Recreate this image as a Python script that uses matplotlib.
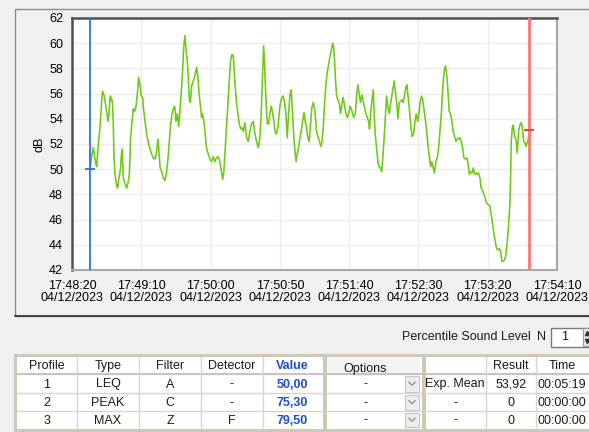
import matplotlib
matplotlib.use("Agg")
import matplotlib.pyplot as plt
from matplotlib.patches import Rectangle
import numpy as np
import pandas as pd

plt.rcParams["font.family"] = ["Liberation Sans", "DejaVu Sans"]
plt.rcParams["font.size"] = 9
plt.rcParams["text.color"] = "#1a1a1a"

# --- measurement -----------------------------------------------------------
axis_start = "2023-12-04T17:48:20"
axis_span_s = 350
tick_step_s = 50

# seconds after 17:48:20 and the sound level (dB) at that moment
offsets_s = [
    13.0, 14.4, 15.4, 16.4, 17.3, 17.8, 19.0, 20.2, 21.4, 22.1, 23.1, 24.1, 25.0, 26.0, 26.7, 27.4, 27.9, 28.4, 29.1, 29.8,
    30.3, 31.0, 32.2, 32.9, 33.9, 35.1, 35.8, 36.3, 36.6, 37.0, 38.2, 39.4, 40.6, 41.4, 42.3, 43.3, 44.3, 45.2, 46.2, 47.1,
    48.1, 49.1, 50.0, 51.0, 51.5, 52.7, 53.9, 55.1, 56.3, 57.5, 58.7, 59.9, 61.1, 62.0, 62.8, 63.5, 64.7, 65.9, 67.1, 68.3,
    69.3, 70.2, 71.2, 72.2, 73.1, 74.1, 75.0, 76.0, 77.0, 77.9, 78.9, 79.8, 80.6, 81.5, 82.3, 83.2, 83.9, 84.7, 85.4,
    86.3, 87.5, 88.7, 89.9, 90.9, 91.8, 92.8, 93.5, 94.2, 95.2, 95.9, 97.1, 98.3, 99.5, 100.7, 101.9, 103.1, 104.3, 105.5, 106.7,
    107.9, 108.7, 109.6, 110.6, 111.6, 112.5, 113.5, 114.4, 115.4, 116.4, 117.1, 117.8, 118.8, 119.7, 120.7, 121.7, 122.6, 123.6, 124.8, 126.0,
    127.2, 128.4, 129.6, 130.8, 132.0, 133.2, 134.4, 135.6, 136.6, 137.5, 138.3, 139.0, 139.9, 140.9, 141.9, 142.8, 143.8, 144.7, 145.7, 146.7,
    147.6, 148.6, 149.6, 150.5, 151.5, 152.4, 153.4, 154.4, 155.3, 156.3, 157.3, 158.2, 159.2, 160.1, 161.1, 161.8, 162.5, 163.5, 164.5, 165.4,
    166.4, 167.4, 168.3, 169.3, 170.2, 171.2, 172.2, 173.1, 174.1, 175.3,
    176.5, 177.7, 178.9, 179.6, 180.4, 181.3, 182.3, 183.2, 184.2, 185.2, 186.1, 187.1, 188.1, 188.8, 189.5, 190.2, 191.0, 191.9, 192.9, 193.8,
    194.8, 195.7, 196.7, 197.7, 198.6, 199.6, 200.6, 201.5, 202.5, 203.4, 204.4, 205.4, 206.3, 207.3, 208.3, 209.2, 210.2, 211.1, 212.1, 213.1,
    214.0, 214.7, 215.5, 216.4, 217.4, 218.1, 218.8, 219.8, 220.8, 221.7, 222.7, 223.4, 224.1, 225.1, 226.1, 227.0, 228.0, 228.9, 229.9, 230.9,
    231.8, 232.5, 233.3, 234.2, 235.2, 236.2, 237.1, 238.1, 239.0, 240.0, 241.0, 241.7, 242.6, 243.6, 244.6, 245.5, 246.5, 247.5, 248.4, 249.4,
    250.3, 251.3, 252.3, 253.2, 254.2, 255.2, 256.1, 257.1, 258.0, 258.8, 259.7, 260.7, 261.6,
    262.6, 263.6, 264.6, 265.5, 266.5, 267.2, 267.9, 268.6, 269.4, 270.1, 270.8, 271.5, 272.2, 273.2, 274.2, 275.1, 276.1, 277.1, 278.0, 279.0,
    279.9, 280.9, 281.9, 282.8, 283.8, 284.8, 285.7, 286.7, 287.6, 288.6, 289.6, 290.5, 291.5, 292.5, 293.4, 294.4, 295.3, 296.3, 297.3, 298.2,
    299.2, 300.4, 301.6, 302.5, 303.5, 304.5, 305.4, 306.4, 307.4, 308.3, 309.3, 310.2, 311.2, 312.2, 313.1, 314.1, 315.1, 316.0, 316.5, 317.0,
    317.7, 318.4, 319.1, 319.9, 320.6, 321.3, 322.3, 323.2, 324.0, 324.7, 325.4, 326.1, 326.8, 327.6, 328.3, 329.0, 330.0,
]
level_db = [
    50.0, 51.2, 51.7, 50.9, 50.4, 50.2, 52.0, 53.3, 55.4, 56.2, 55.9, 55.2, 54.6, 53.8, 54.4, 55.7, 55.8, 55.4, 55.5, 53.6,
    50.9, 49.6, 48.7, 48.5, 49.3, 50.1, 51.4, 51.6, 50.6, 49.3, 48.9, 48.5, 49.0, 49.6, 52.5, 53.8, 54.8, 54.6, 55.0, 55.9,
    57.3, 56.6, 55.8, 55.7, 54.9, 53.8, 52.8, 52.1, 51.6, 51.2, 50.9, 50.8, 51.4, 52.4, 51.4, 50.2, 49.8, 49.3, 49.1, 49.8,
    50.9, 52.2, 53.6, 54.4, 54.8, 55.0, 53.8, 54.4, 53.4, 54.6, 56.2, 57.8, 59.7, 60.6, 59.4, 58.6, 57.3, 55.5, 55.3,
    56.6, 57.0, 57.4, 58.1, 57.3, 55.9, 54.9, 54.1, 54.4, 53.8, 53.0, 51.7, 51.2, 50.8, 50.6, 51.0, 50.6, 50.9, 51.0, 50.6,
    49.8, 49.2, 49.8, 51.7, 53.6, 55.2, 57.0, 58.6, 59.1, 59.0, 57.8, 56.5, 55.2, 54.4, 53.6, 53.2, 53.3, 53.0, 53.7, 52.5,
    52.2, 53.0, 53.6, 53.8, 52.8, 52.2, 51.7, 52.5, 54.6, 57.5, 59.8, 58.3, 55.7, 53.6, 53.6, 54.4, 55.0, 54.5, 53.8, 52.9,
    52.8, 53.3, 54.6, 55.3, 55.7, 55.8, 55.3, 54.4, 52.5, 54.4, 55.9, 56.3, 54.4, 52.5, 51.2, 50.6, 51.2, 51.7, 52.5, 53.0,
    53.8, 54.5, 53.8, 53.3, 52.5, 52.2, 53.6, 54.9, 55.3, 54.6,
    53.0, 52.5, 52.1, 51.8, 52.2, 53.3, 55.2, 56.7, 57.7, 58.3, 58.9, 59.4, 60.0, 59.7, 58.6, 57.0, 55.8, 55.5, 55.2, 54.4,
    55.2, 55.7, 55.0, 54.4, 54.1, 54.4, 55.0, 54.8, 54.4, 54.1, 54.4, 55.9, 56.7, 55.9, 55.3, 55.9, 55.4, 54.9, 54.4, 54.1,
    53.8, 53.2, 54.4, 55.4, 56.3, 54.4, 52.8, 51.7, 50.6, 50.2, 50.1, 49.8, 50.6, 52.2, 54.1, 55.8, 54.9, 54.4, 55.2, 55.9,
    56.5, 57.0, 56.2, 55.4, 54.0, 55.3, 55.4, 55.5, 55.3, 55.9, 56.5, 56.7, 55.7, 54.6, 53.3, 52.6, 52.8, 53.8, 54.4, 53.8,
    54.4, 55.4, 55.8, 55.4, 54.6, 53.8, 52.8, 51.7, 50.9, 50.2, 50.6, 50.1, 49.7,
    50.6, 50.9, 51.7, 53.0, 54.4, 55.7, 57.0, 57.8, 58.2, 57.8, 57.0, 55.9, 54.6, 54.4, 53.8, 53.0, 52.6, 52.2, 52.4, 52.4,
    52.5, 52.2, 51.7, 50.9, 50.8, 50.9, 50.5, 49.6, 49.8, 49.7, 50.1, 49.6, 49.7, 49.6, 49.7, 49.3, 48.5, 48.3, 48.0, 47.7,
    47.3, 47.2, 47.1, 46.4, 45.6, 44.9, 44.3, 43.7, 43.6, 43.7, 43.5, 42.7, 42.7, 42.8, 43.2, 44.3, 45.6, 47.2, 49.3, 52.2,
    53.3, 53.5, 52.8, 52.5, 52.2, 51.3, 53.0, 53.5, 53.7, 53.5, 52.8, 52.2, 52.1, 51.8, 52.1, 52.2, 53.1,
]

# cursors: (seconds after 17:48:20, level at the cursor)
cursor_a = (13.0, 50.0)
cursor_b = (330.0, 53.1)

# --- profile tables ----------------------------------------------------------
profiles = ["1", "2", "3"]
types = ["LEQ", "PEAK", "MAX"]
filters = ["A", "C", "Z"]
detectors = ["-", "-", "F"]
values = [50.00, 75.30, 79.50]
options = ["-", "-", "-"]
stat_names = ["Exp. Mean", "-", "-"]
results = [53.92, 0, 0]
durations = ["00:05:19", "00:00:00", "00:00:00"]
percentile_n = 1


def comma(v, digits=2):
    return "0" if v == 0 else f"{v:.{digits}f}".replace(".", ",")


W, H = 589, 432
fig = plt.figure(figsize=(W / 100, H / 100), dpi=100, facecolor="#f0f0f0")


def px_box(x0, y0, x1, y1):
    return [x0 / W, 1 - y1 / H, (x1 - x0) / W, (y1 - y0) / H]


# pixel-space layer for the window frame and the tables
ui = fig.add_axes([0, 0, 1, 1])
ui.set_xlim(0, W)
ui.set_ylim(H, 0)
ui.axis("off")

# chart panel frame
ui.add_patch(Rectangle((14.5, 8.5), 600, 307, fill=False, edgecolor="#8c8c8c", lw=1))
ui.plot([14.5, 600], [315.5, 315.5], color="#2e2e2e", lw=1.2)

# --- chart -------------------------------------------------------------------
t0 = np.datetime64(axis_start)


def at(sec):
    return t0 + np.round(np.asarray(sec) * 1000).astype("timedelta64[ms]")


ax = fig.add_axes(px_box(72, 18, 557, 270))
ax.set_facecolor("white")
ax.plot(at(offsets_s), level_db, color="#6ccb12", lw=1.15, zorder=3)

ax.axvline(at(cursor_a[0]), color="#2f6ef0", lw=1.3, zorder=4)
ax.plot(at(cursor_a[0]), cursor_a[1], marker="_", ms=7, mew=1.3, color="#2f6ef0", zorder=5)
ax.axvline(at(cursor_b[0]), color="#ff7474", lw=2, zorder=4)
ax.plot(at(cursor_b[0]), cursor_b[1], marker="_", ms=7, mew=1.3, color="#e8303a", zorder=5)

ticks = at(np.arange(0, axis_span_s + 1, tick_step_s))
ax.set_xticks(ticks)
ax.set_xticklabels([pd.Timestamp(t).strftime("%H:%M:%S\n%d/%m/%Y") for t in ticks],
                   linespacing=1.05)
ax.set_xlim(ticks[0], ticks[-1])
ax.set_ylim(42, 62)
ax.set_yticks(range(42, 63, 2))
ax.tick_params(axis="y", length=0, pad=6.5)
ax.tick_params(axis="x", length=0, pad=7)
ax.set_ylabel("dB", va="center")
ax.yaxis.set_label_coords(-0.066, 0.5)

ax.grid(color="#ececec", lw=1)
ax.set_axisbelow(True)
for side in ("top", "left"):
    ax.spines[side].set_color("#505050")
    ax.spines[side].set_linewidth(1.8)
for side in ("bottom", "right"):
    ax.spines[side].set_color("#a8a8a8")
    ax.spines[side].set_linewidth(1.5)

# --- percentile selector ------------------------------------------------------
ui.text(531, 337, "Percentile Sound Level", ha="right", va="center")
ui.text(541, 337, "N", ha="center", va="center")
ui.add_patch(Rectangle((551, 327.5), 45, 19, facecolor="white", edgecolor="#7a7a7a", lw=1))
ui.text(565, 337.5, str(percentile_n), ha="center", va="center")
ui.add_patch(Rectangle((583, 328), 10, 18, facecolor="#e6e6e6", edgecolor="#9a9a9a", lw=0.8))
ui.plot([587], [333], marker="^", ms=3, color="#333333")
ui.plot([587], [341], marker="v", ms=3, color="#333333")

# --- tables ------------------------------------------------------------------
row_y = [357, 374, 393, 411, 428]
row_mid = [(a + b) / 2 + 1 for a, b in zip(row_y[1:-1], row_y[2:])]
head_mid = 366
line_c = "#d6d6d6"


def table_frame(x0, x1):
    ui.add_patch(Rectangle((x0, 355), x1 - x0, 75, facecolor="white",
                           edgecolor="#cdc9b6", lw=2.2, clip_on=False))


def grid_lines(col_x):
    for y in row_y[1:-1]:
        ui.plot([col_x[0], col_x[-1]], [y, y], color=line_c, lw=1)
    ui.plot([col_x[0], col_x[-1]], [row_y[1], row_y[1]], color="#c4c4c4", lw=1.4)
    for x in col_x[1:-1]:
        ui.plot([x, x], [row_y[0], row_y[-1]], color=line_c, lw=1)


# profile settings
col1 = [17, 77, 139, 201, 263, 322]
table_frame(15, 324)
grid_lines(col1)
headers1 = ["Profile", "Type", "Filter", "Detector"]
for c, name in enumerate(headers1):
    ui.text((col1[c] + col1[c + 1]) / 2, head_mid, name, ha="center", va="center")
ui.text((col1[4] + col1[5]) / 2, head_mid, "Value", ha="center", va="center",
        color="#1d4fd6", weight="bold")
for r in range(3):
    cells = [profiles[r], types[r], filters[r], detectors[r]]
    for c, txt in enumerate(cells):
        ui.text((col1[c] + col1[c + 1]) / 2, row_mid[r], txt, ha="center", va="center")
    ui.text((col1[4] + col1[5]) / 2, row_mid[r], comma(values[r]), ha="center",
            va="center", color="#1d4fd6", weight="bold")

# options with drop-down buttons
col2 = [326, 421]
table_frame(325, 423)
ui.add_patch(Rectangle((327, 357), 93, 18, facecolor="#f4f4f4", edgecolor="none"))
grid_lines(col2)
ui.text(365, 369, "Options", ha="center", va="center")
for r in range(3):
    ui.text(365, row_mid[r], options[r], ha="center", va="center")
    top, bot = row_y[r + 1] + 2, row_y[r + 2] - 1.5
    ui.add_patch(Rectangle((405, top), 14, bot - top, facecolor="#ededed",
                           edgecolor="#c6c6c6", lw=0.8))
    cy = (top + bot) / 2
    ui.plot([409, 412, 415], [cy - 1.5, cy + 1.5, cy - 1.5], color="#8a8a8a", lw=0.9)

# results
col3 = [424, 486, 536, 640]
table_frame(424, 640)
grid_lines(col3)
ui.text(511, head_mid, "Result", ha="center", va="center")
ui.text(562, head_mid, "Time", ha="center", va="center")
for r in range(3):
    ui.text(455, row_mid[r], stat_names[r], ha="center", va="center")
    ui.text(511, row_mid[r], comma(results[r]), ha="center", va="center")
    ui.text(538, row_mid[r], durations[r], ha="left", va="center")

fig.savefig("out.png", dpi=100, facecolor=fig.get_facecolor())
